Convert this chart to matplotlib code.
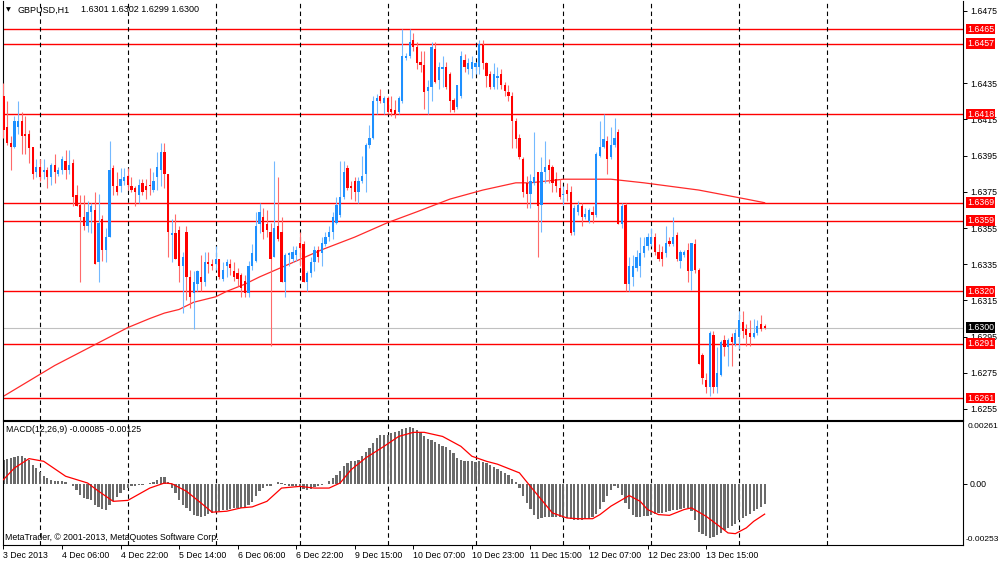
import numpy as np
import matplotlib.pyplot as plt
from matplotlib import transforms

plt.rcParams['font.family'] = ['Liberation Sans', 'DejaVu Sans']
plt.rcParams['font.size'] = 6.3

# GBPUSD H1, bars from 3 Dec 14:00 to 13 Dec
opens = [
    1.6428, 1.6411, 1.6402, 1.6400, 1.6411, 1.6414, 1.6407, 1.6407, 1.6400, 1.6386,
    1.6389, 1.6386, 1.6387, 1.6383, 1.6390, 1.6385, 1.6387, 1.6392, 1.6387, 1.6391,
    1.6373, 1.6368, 1.6361, 1.6356, 1.6364, 1.6365, 1.6336, 1.6360, 1.6343, 1.6350,
    1.6388, 1.6378, 1.6378, 1.6381, 1.6384, 1.6378, 1.6377, 1.6373, 1.6380, 1.6378,
    1.6379, 1.6376, 1.6383, 1.6387, 1.6397, 1.6385, 1.6351, 1.6352, 1.6354, 1.6334,
    1.6353, 1.6328, 1.6319, 1.6324, 1.6328, 1.6325, 1.6336, 1.6335, 1.6335, 1.6338,
    1.6327, 1.6334, 1.6335, 1.6331, 1.6330, 1.6329, 1.6326, 1.6319, 1.6334, 1.6337,
    1.6357, 1.6361, 1.6357, 1.6353, 1.6339, 1.6356, 1.6353, 1.6325, 1.6340, 1.6338,
    1.6340, 1.6347, 1.6346, 1.6325, 1.6330, 1.6336, 1.6343, 1.6341, 1.6346, 1.6350,
    1.6353, 1.6358, 1.6362, 1.6372, 1.6388, 1.6378, 1.6381, 1.6375, 1.6381, 1.6385,
    1.6401, 1.6405, 1.6425, 1.6428, 1.6424, 1.6427, 1.6421, 1.6420, 1.6419, 1.6425,
    1.6449, 1.6450, 1.6459, 1.6455, 1.6447, 1.6445, 1.6431, 1.6433, 1.6454, 1.6437,
    1.6443, 1.6444, 1.6440, 1.6426, 1.6422, 1.6428, 1.6448, 1.6443, 1.6443, 1.6444,
    1.6444, 1.6456, 1.6446, 1.6440, 1.6433, 1.6438, 1.6440, 1.6434, 1.6430, 1.6428,
    1.6414, 1.6405, 1.6393, 1.6380, 1.6374, 1.6380, 1.6386, 1.6368, 1.6386, 1.6390,
    1.6389, 1.6382, 1.6377, 1.6373, 1.6376, 1.6375, 1.6353, 1.6364, 1.6367, 1.6361,
    1.6359, 1.6364, 1.6362, 1.6395, 1.6400, 1.6403, 1.6394, 1.6401, 1.6408, 1.6357,
    1.6368, 1.6324, 1.6328, 1.6333, 1.6334, 1.6341, 1.6345, 1.6346, 1.6350, 1.6342,
    1.6342, 1.6341, 1.6348, 1.6346, 1.6351, 1.6337, 1.6340, 1.6343, 1.6331, 1.6346,
    1.6332, 1.6285, 1.6271, 1.6267, 1.6296, 1.6267, 1.6274, 1.6293, 1.6289, 1.6295,
    1.6291, 1.6295, 1.6303, 1.6299, 1.6297, 1.6295, 1.6297, 1.6302, 1.6301,
]
highs = [
    1.6435, 1.6425, 1.6406, 1.6417, 1.6425, 1.6419, 1.6417, 1.6409, 1.6400, 1.6393,
    1.6393, 1.6393, 1.6389, 1.6391, 1.6396, 1.6389, 1.6395, 1.6398, 1.6398, 1.6393,
    1.6379, 1.6373, 1.6373, 1.6370, 1.6369, 1.6375, 1.6374, 1.6362, 1.6355, 1.6403,
    1.6390, 1.6386, 1.6388, 1.6388, 1.6388, 1.6383, 1.6378, 1.6382, 1.6382, 1.6382,
    1.6388, 1.6386, 1.6397, 1.6402, 1.6402, 1.6385, 1.6360, 1.6363, 1.6356, 1.6342,
    1.6356, 1.6332, 1.6331, 1.6332, 1.6340, 1.6342, 1.6342, 1.6338, 1.6345, 1.6338,
    1.6336, 1.6338, 1.6338, 1.6336, 1.6333, 1.6330, 1.6329, 1.6337, 1.6346, 1.6364,
    1.6369, 1.6366, 1.6365, 1.6358, 1.6392, 1.6383, 1.6361, 1.6341, 1.6342, 1.6345,
    1.6345, 1.6353, 1.6348, 1.6331, 1.6339, 1.6345, 1.6345, 1.6350, 1.6353, 1.6356,
    1.6364, 1.6372, 1.6392, 1.6392, 1.6390, 1.6381, 1.6383, 1.6383, 1.6395, 1.6402,
    1.6412, 1.6428, 1.6429, 1.6432, 1.6428, 1.6428, 1.6428, 1.6426, 1.6428, 1.6465,
    1.6452, 1.6465, 1.6463, 1.6458, 1.6453, 1.6453, 1.6437, 1.6458, 1.6458, 1.6447,
    1.6450, 1.6447, 1.6441, 1.6427, 1.6434, 1.6453, 1.6451, 1.6449, 1.6450, 1.6447,
    1.6459, 1.6459, 1.6447, 1.6442, 1.6446, 1.6444, 1.6443, 1.6436, 1.6434, 1.6430,
    1.6416, 1.6407, 1.6394, 1.6384, 1.6385, 1.6408, 1.6386, 1.6394, 1.6403, 1.6393,
    1.6390, 1.6386, 1.6382, 1.6378, 1.6380, 1.6378, 1.6368, 1.6370, 1.6369, 1.6366,
    1.6366, 1.6367, 1.6397, 1.6414, 1.6418, 1.6406, 1.6411, 1.6416, 1.6410, 1.6369,
    1.6369, 1.6339, 1.6340, 1.6343, 1.6350, 1.6350, 1.6352, 1.6355, 1.6352, 1.6346,
    1.6345, 1.6356, 1.6350, 1.6361, 1.6353, 1.6343, 1.6343, 1.6347, 1.6347, 1.6349,
    1.6333, 1.6286, 1.6275, 1.6298, 1.6298, 1.6289, 1.6293, 1.6296, 1.6294, 1.6297,
    1.6299, 1.6309, 1.6309, 1.6302, 1.6304, 1.6305, 1.6304, 1.6307, 1.6302,
]
lows = [
    1.6405, 1.6401, 1.6387, 1.6399, 1.6407, 1.6396, 1.6396, 1.6391, 1.6382, 1.6383,
    1.6381, 1.6382, 1.6377, 1.6379, 1.6380, 1.6384, 1.6385, 1.6382, 1.6385, 1.6367,
    1.6367, 1.6325, 1.6354, 1.6353, 1.6352, 1.6335, 1.6325, 1.6337, 1.6336, 1.6350,
    1.6373, 1.6373, 1.6375, 1.6379, 1.6376, 1.6375, 1.6367, 1.6369, 1.6373, 1.6371,
    1.6373, 1.6375, 1.6376, 1.6378, 1.6377, 1.6339, 1.6336, 1.6338, 1.6325, 1.6308,
    1.6315, 1.6311, 1.6299, 1.6320, 1.6320, 1.6323, 1.6330, 1.6332, 1.6332, 1.6327,
    1.6326, 1.6328, 1.6329, 1.6326, 1.6323, 1.6317, 1.6317, 1.6317, 1.6332, 1.6336,
    1.6352, 1.6349, 1.6350, 1.6290, 1.6339, 1.6348, 1.6325, 1.6317, 1.6334, 1.6336,
    1.6337, 1.6334, 1.6325, 1.6320, 1.6328, 1.6331, 1.6336, 1.6334, 1.6345, 1.6348,
    1.6349, 1.6357, 1.6361, 1.6371, 1.6376, 1.6371, 1.6370, 1.6369, 1.6380, 1.6375,
    1.6399, 1.6404, 1.6418, 1.6424, 1.6418, 1.6418, 1.6417, 1.6416, 1.6418, 1.6424,
    1.6448, 1.6449, 1.6453, 1.6443, 1.6441, 1.6421, 1.6418, 1.6425, 1.6435, 1.6432,
    1.6433, 1.6432, 1.6419, 1.6419, 1.6421, 1.6427, 1.6441, 1.6440, 1.6438, 1.6440,
    1.6440, 1.6443, 1.6433, 1.6432, 1.6432, 1.6432, 1.6432, 1.6428, 1.6425, 1.6399,
    1.6399, 1.6393, 1.6372, 1.6366, 1.6366, 1.6379, 1.6339, 1.6353, 1.6380, 1.6380,
    1.6375, 1.6375, 1.6371, 1.6368, 1.6370, 1.6351, 1.6351, 1.6362, 1.6356, 1.6360,
    1.6358, 1.6358, 1.6361, 1.6394, 1.6399, 1.6385, 1.6393, 1.6400, 1.6357, 1.6355,
    1.6320, 1.6320, 1.6323, 1.6331, 1.6328, 1.6339, 1.6343, 1.6345, 1.6340, 1.6337,
    1.6334, 1.6339, 1.6345, 1.6345, 1.6337, 1.6333, 1.6339, 1.6325, 1.6321, 1.6330,
    1.6280, 1.6269, 1.6264, 1.6262, 1.6264, 1.6264, 1.6273, 1.6284, 1.6279, 1.6279,
    1.6290, 1.6288, 1.6294, 1.6290, 1.6290, 1.6294, 1.6296, 1.6298, 1.6299,
]
closes = [
    1.6409, 1.6402, 1.6400, 1.6414, 1.6414, 1.6406, 1.6406, 1.6399, 1.6385, 1.6389,
    1.6383, 1.6387, 1.6383, 1.6390, 1.6386, 1.6387, 1.6393, 1.6387, 1.6390, 1.6372,
    1.6367, 1.6361, 1.6356, 1.6364, 1.6367, 1.6335, 1.6358, 1.6343, 1.6350, 1.6387,
    1.6378, 1.6375, 1.6382, 1.6383, 1.6379, 1.6376, 1.6375, 1.6379, 1.6375, 1.6376,
    1.6378, 1.6381, 1.6389, 1.6397, 1.6385, 1.6353, 1.6352, 1.6338, 1.6334, 1.6339,
    1.6328, 1.6317, 1.6325, 1.6331, 1.6325, 1.6336, 1.6335, 1.6334, 1.6338, 1.6328,
    1.6332, 1.6336, 1.6333, 1.6328, 1.6327, 1.6322, 1.6319, 1.6334, 1.6341, 1.6356,
    1.6364, 1.6353, 1.6354, 1.6338, 1.6355, 1.6349, 1.6325, 1.6340, 1.6341, 1.6342,
    1.6343, 1.6344, 1.6325, 1.6330, 1.6336, 1.6343, 1.6339, 1.6347, 1.6350, 1.6353,
    1.6361, 1.6368, 1.6372, 1.6386, 1.6377, 1.6377, 1.6375, 1.6381, 1.6384, 1.6401,
    1.6405, 1.6425, 1.6427, 1.6425, 1.6427, 1.6419, 1.6419, 1.6418, 1.6427, 1.6450,
    1.6450, 1.6458, 1.6455, 1.6446, 1.6445, 1.6430, 1.6433, 1.6455, 1.6436, 1.6444,
    1.6444, 1.6433, 1.6425, 1.6420, 1.6434, 1.6450, 1.6444, 1.6446, 1.6447, 1.6446,
    1.6457, 1.6446, 1.6439, 1.6433, 1.6440, 1.6439, 1.6434, 1.6431, 1.6428, 1.6414,
    1.6404, 1.6394, 1.6375, 1.6374, 1.6381, 1.6383, 1.6367, 1.6386, 1.6389, 1.6387,
    1.6380, 1.6378, 1.6372, 1.6374, 1.6374, 1.6352, 1.6366, 1.6368, 1.6361, 1.6363,
    1.6365, 1.6362, 1.6396, 1.6400, 1.6404, 1.6393, 1.6401, 1.6405, 1.6357, 1.6367,
    1.6324, 1.6334, 1.6334, 1.6339, 1.6341, 1.6345, 1.6350, 1.6350, 1.6342, 1.6338,
    1.6338, 1.6347, 1.6346, 1.6350, 1.6338, 1.6342, 1.6342, 1.6331, 1.6347, 1.6332,
    1.6280, 1.6272, 1.6267, 1.6297, 1.6267, 1.6275, 1.6292, 1.6289, 1.6293, 1.6292,
    1.6297, 1.6304, 1.6298, 1.6296, 1.6295, 1.6297, 1.6301, 1.6299, 1.6300,
]

# moving average, sampled along the line (bar index, price)
ma_bars = [0, 14, 34, 40, 44, 48, 52, 58, 61, 66, 70, 78, 87, 96, 105, 113, 122,
           131, 140, 144, 153, 163, 166, 175, 190, 203, 208]
ma_values = [1.6262, 1.6279, 1.6300, 1.6305, 1.6308, 1.6310, 1.6314, 1.6317, 1.6320,
             1.6324, 1.6328, 1.6335, 1.6343, 1.6350, 1.6358, 1.6364, 1.6371, 1.6376,
             1.6380, 1.6380, 1.6382, 1.6382, 1.6382, 1.6380, 1.6376, 1.6371, 1.6369]

# MACD(12,26,9) main values per bar, in 1e-5
macd_pts = [
    101, 104, 108, 112, 117, 115, 108, 98, 80, 66,
    50, 35, 25, 18, 14, 12, 11, 7, -2, -10,
    -26, -44, -58, -62, -65, -86, -95, -104, -106, -86,
    -72, -54, -37, -23, -17, -10, -7, -6, -3, 1,
    4, 8, 18, 29, 29, 8, -17, -37, -65, -86,
    -99, -113, -127, -134, -137, -131, -126, -120, -115, -113,
    -109, -106, -104, -101, -98, -99, -95, -86, -73, -48,
    -30, -17, -10, -7, -1, 10, 4, -6, -7, -7,
    -8, -10, -19, -23, -21, -14, -10, -6, -1, 11,
    25, 39, 52, 73, 87, 94, 97, 101, 115, 131,
    149, 170, 190, 203, 204, 204, 211, 214, 218, 228,
    230, 236, 233, 225, 214, 197, 186, 184, 173, 167,
    159, 153, 139, 128, 108, 98, 95, 94, 94, 92,
    94, 91, 87, 80, 70, 62, 52, 46, 39, 21,
    7, -17, -48, -79, -104, -127, -145, -142, -139, -137,
    -137, -137, -138, -141, -142, -145, -148, -148, -148, -146,
    -145, -139, -123, -104, -76, -48, -26, -10, -17, -44,
    -79, -104, -127, -137, -138, -134, -131, -127, -124, -121,
    -119, -115, -110, -109, -106, -104, -101, -101, -113, -148,
    -200, -206, -214, -224, -219, -210, -203, -192, -182, -173,
    -164, -150, -141, -131, -123, -113, -104, -95, -85,
]
signal_bars = [0, 3, 7, 11, 17, 23, 26, 30, 34, 40, 44, 46, 50, 54, 57, 61, 65, 68,
               72, 76, 81, 85, 89, 92, 95, 99, 104, 108, 112, 115, 120, 125, 128,
               132, 135, 141, 144, 147, 150, 154, 157, 161, 163, 166, 171, 174, 176,
               179, 182, 186, 188, 192, 195, 198, 200, 203, 205, 208]
signal_pts = [18, 66, 105, 94, 32, 4, -30, -72, -68, -17, 4, 1, -30, -79, -117, -113,
              -99, -95, -72, -17, -10, -17, -17, 4, 59, 108, 156, 197, 214, 214, 197,
              156, 115, 94, 82, 46, -10, -65, -120, -141, -144, -144, -127, -92, -48,
              -72, -106, -127, -130, -106, -99, -134, -168, -203, -206, -182, -155, -125]

level_prices = [1.6465, 1.6457, 1.6418, 1.6369, 1.6359, 1.6320, 1.6291, 1.6261]
bid_price = 1.6300
price_ticks = [1.6475, 1.6435, 1.6415, 1.6395, 1.6375, 1.6355, 1.6335,
               1.6315, 1.6295, 1.6275, 1.6255]
time_labels = ['3 Dec 2013', '4 Dec 06:00', '4 Dec 22:00', '5 Dec 14:00', '6 Dec 06:00',
               '6 Dec 22:00', '9 Dec 15:00', '10 Dec 07:00', '10 Dec 23:00',
               '11 Dec 15:00', '12 Dec 07:00', '12 Dec 23:00', '13 Dec 15:00']
time_label_bars = [0, 16, 32, 48, 64, 80, 96, 112, 128, 144, 160, 176, 192]
day_start_bars = [10, 34, 58, 81, 105, 129, 153, 177, 201, 225]

W, H = 1000, 562
fig = plt.figure(figsize=(W / 100, H / 100), dpi=100)
ax = fig.add_axes([3 / W, 1 - 420 / H, 960 / W, 419 / H])
axm = fig.add_axes([3 / W, 1 - 545 / H, 960 / W, 124 / H])

o = np.array(opens)
h = np.array(highs)
l = np.array(lows)
c = np.array(closes)
x = np.arange(len(c))
up = c >= o
body_col = np.where(up, '#1e90ff', '#ff0000')
wick_col = np.where(up, '#74b9ff', '#ff6a6a')

xlim = (-0.11, 262.2)

# main price panel
for p in level_prices:
    ax.axhline(p, color='#ff0000', lw=1.0, zorder=1)
ax.axhline(bid_price, color='#c0c0c0', lw=0.8, zorder=1)
ax.plot(ma_bars, ma_values, color='#ff2a2a', lw=0.9, zorder=2)
ax.vlines(x, l, h, colors=wick_col, lw=0.8, zorder=3)
ax.bar(x, np.maximum(np.abs(c - o), 0.00005), bottom=np.minimum(o, c), width=0.62,
       color=body_col, linewidth=0, zorder=4)

ax.set_xlim(*xlim)
ax.set_ylim(1.62489, 1.64805)
ax.yaxis.tick_right()
ax.set_yticks(price_ticks)
ax.set_yticklabels([f'{p:.4f}' for p in price_ticks])
ax.tick_params(axis='y', length=3, width=0.7, pad=2, labelsize=6.3)
ax.set_xticks([])
ax.spines['top'].set_visible(False)

trans = transforms.blended_transform_factory(ax.transAxes, ax.transData)
for p in level_prices:
    ax.text(1.004, p, f'{p:.4f}', transform=trans, color='white', fontsize=6.3,
            va='center', ha='left', clip_on=False, zorder=10,
            bbox=dict(facecolor='#ff0000', edgecolor='none', pad=0.6))
ax.text(1.004, bid_price, f'{bid_price:.4f}', transform=trans, color='white',
        fontsize=6.3, va='center', ha='left', clip_on=False, zorder=10,
        bbox=dict(facecolor='black', edgecolor='none', pad=0.6))

# MACD panel
macd = np.array(macd_pts) * 1e-5
axm.bar(x, macd, width=0.62, color='#6a6a6a', linewidth=0, zorder=2)
axm.plot(signal_bars, np.array(signal_pts) * 1e-5, color='#ff0000', lw=0.9, zorder=3)
axm.set_xlim(*xlim)
axm.set_ylim(-0.00253, 0.00261)
axm.yaxis.tick_right()
axm.set_yticks([0.0])
axm.set_yticklabels(['0.00'])
axm.tick_params(axis='y', length=3, width=0.7, pad=2, labelsize=6.3)
axm.text(1.005, 0.985, '0.00261', transform=axm.transAxes, fontsize=6.1,
         va='top', ha='left')
axm.text(1.003, 0.02, '-0.00253', transform=axm.transAxes, fontsize=6.0,
         va='bottom', ha='left')
axm.set_xticks(time_label_bars)
axm.set_xticklabels(time_labels)
for lab in axm.get_xticklabels():
    lab.set_horizontalalignment('left')
axm.tick_params(axis='x', length=3, width=0.7, pad=1, labelsize=6.3)

for a in (ax, axm):
    for b in day_start_bars:
        a.axvline(b, color='black', lw=0.8, ls=(0, (4, 3)), zorder=1.5)
    for s in a.spines.values():
        s.set_linewidth(0.8)

fig.text(6 / W, 1 - 10 / H, '\u25bc', fontsize=4.5, va='center', ha='left',
         family=['DejaVu Sans'])
fig.text(17 / W, 1 - 10 / H, 'GBPUSD,H1', fontsize=6.5, va='center', ha='left')
fig.text(81 / W, 1 - 10 / H, '1.6301 1.6302 1.6299 1.6300', fontsize=6.5,
         va='center', ha='left')
fig.text(6 / W, 1 - 429 / H, 'MACD(12,26,9) -0.00085 -0.00125', fontsize=6.3,
         va='center', ha='left')
fig.text(5 / W, 1 - 538 / H, 'MetaTrader, \u00a9 2001-2013, MetaQuotes Software Corp.',
         fontsize=6.3, va='center', ha='left')

fig.savefig('out.png', dpi=100, facecolor='white')
